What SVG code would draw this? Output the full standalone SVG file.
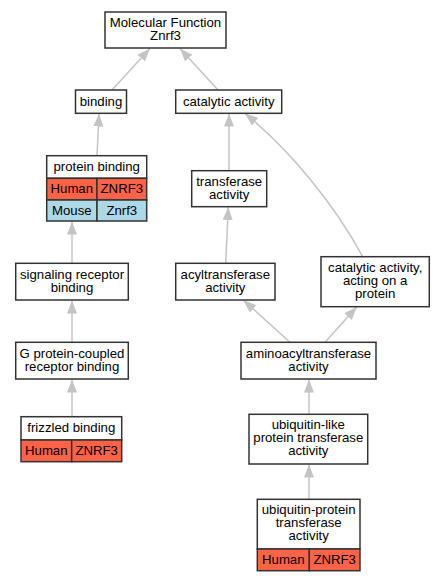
<svg xmlns="http://www.w3.org/2000/svg" width="444" height="581" viewBox="0 0 444 581">
<style>
.box{fill:#fff;stroke:#333;stroke-width:1.5}
.hum{fill:#ff6347;stroke:#333;stroke-width:1.5}
.mou{fill:#add8e6;stroke:#333;stroke-width:1.5}
text{font-family:"Liberation Sans",Arial,sans-serif;font-size:13.2px;fill:#000;text-anchor:middle}
.edge{fill:none;stroke:#c4c4c4;stroke-width:1.5}
</style>
<defs>
<marker id="ah" markerUnits="userSpaceOnUse" markerWidth="14" markerHeight="11" refX="13" refY="5" orient="auto">
<path d="M0,0 L13,5 L0,10 z" fill="#c4c4c4"/>
</marker>
</defs>
<rect width="444" height="581" fill="#fff"/>
<g id="connectors">
<path class="edge" marker-end="url(#ah)" d="M112,90 L150,48.5"/>
<path class="edge" marker-end="url(#ah)" d="M218,90 L180,48.5"/>
<path class="edge" marker-end="url(#ah)" d="M97,155.7 L99,113.5"/>
<path class="edge" marker-end="url(#ah)" d="M229,170.7 L229,113.5"/>
<path class="edge" marker-end="url(#ah)" d="M362.7,256.7 C335,205 290,150 245,113.5"/>
<path class="edge" marker-end="url(#ah)" d="M72,263.3 L72,221.5"/>
<path class="edge" marker-end="url(#ah)" d="M72,342.3 L72,300.5"/>
<path class="edge" marker-end="url(#ah)" d="M72,416.7 L72,379.5"/>
<path class="edge" marker-end="url(#ah)" d="M225.7,263.3 L228.3,207"/>
<path class="edge" marker-end="url(#ah)" d="M290,342.3 L243.5,300.3"/>
<path class="edge" marker-end="url(#ah)" d="M325,342.3 L356.7,307"/>
<path class="edge" marker-end="url(#ah)" d="M309,414.3 L309,379.5"/>
<path class="edge" marker-end="url(#ah)" d="M309,499.3 L309,464.5"/>
</g>
<g id="mf">
<rect class="box" x="105" y="12" width="121" height="36"/>
<text x="165.5" y="27">Molecular Function</text>
<text x="165.5" y="40">Znrf3</text>
</g>
<g id="binding">
<rect class="box" x="75.5" y="90" width="51" height="23.3"/>
<text x="101" y="105.5">binding</text>
</g>
<g id="catalytic">
<rect class="box" x="175.7" y="90" width="106" height="23.3"/>
<text x="228.7" y="105.5">catalytic activity</text>
</g>
<g id="protein_binding">
<rect class="box" x="46.7" y="155.7" width="100" height="22.6"/>
<rect class="hum" x="46.7" y="178.3" width="50.3" height="21.7"/>
<rect class="hum" x="97" y="178.3" width="49.7" height="21.7"/>
<rect class="mou" x="46.7" y="200" width="50.3" height="21"/>
<rect class="mou" x="97" y="200" width="49.7" height="21"/>
<text x="96.7" y="170.5">protein binding</text>
<text x="71.8" y="193">Human</text>
<text x="121.8" y="193">ZNRF3</text>
<text x="71.8" y="214.5">Mouse</text>
<text x="121.8" y="214.5">Znrf3</text>
</g>
<g id="signaling">
<rect class="box" x="15.7" y="263.3" width="112.6" height="36.7"/>
<text x="72" y="278.5">signaling receptor</text>
<text x="72" y="291.5">binding</text>
</g>
<g id="gpcr">
<rect class="box" x="15.7" y="342.3" width="112.6" height="36.7"/>
<text x="72" y="357.5">G protein-coupled</text>
<text x="72" y="370.5">receptor binding</text>
</g>
<g id="frizzled">
<rect class="box" x="21" y="416.7" width="100.7" height="23.3"/>
<rect class="hum" x="21" y="440" width="50.7" height="21.7"/>
<rect class="hum" x="71.7" y="440" width="50" height="21.7"/>
<text x="71.3" y="432">frizzled binding</text>
<text x="46.3" y="454.5">Human</text>
<text x="96.7" y="454.5">ZNRF3</text>
</g>
<g id="transferase">
<rect class="box" x="191.7" y="170.7" width="75" height="36"/>
<text x="229.2" y="185.5">transferase</text>
<text x="229.2" y="198.5">activity</text>
</g>
<g id="acyltransferase">
<rect class="box" x="175.7" y="263.3" width="99.3" height="36.7"/>
<text x="225.3" y="278.5">acyltransferase</text>
<text x="225.3" y="291.5">activity</text>
</g>
<g id="catalytic_protein">
<rect class="box" x="321" y="256.7" width="108.3" height="50"/>
<text x="375.2" y="271.5">catalytic activity,</text>
<text x="375.2" y="284.5">acting on a</text>
<text x="375.2" y="297.5">protein</text>
</g>
<g id="aminoacyl">
<rect class="box" x="241" y="342.3" width="135" height="36.7"/>
<text x="308.5" y="357.5">aminoacyltransferase</text>
<text x="308.5" y="370.5">activity</text>
</g>
<g id="ubl">
<rect class="box" x="249" y="414.3" width="118.7" height="49.7"/>
<text x="308.3" y="429">ubiquitin-like</text>
<text x="308.3" y="442">protein transferase</text>
<text x="308.3" y="455">activity</text>
</g>
<g id="ubp">
<rect class="box" x="257.3" y="499.3" width="102.7" height="49.7"/>
<rect class="hum" x="257.3" y="549" width="52" height="21.7"/>
<rect class="hum" x="309.3" y="549" width="50.7" height="21.7"/>
<text x="308.7" y="514">ubiquitin-protein</text>
<text x="308.7" y="527">transferase</text>
<text x="308.7" y="540">activity</text>
<text x="283.3" y="563.5">Human</text>
<text x="334.7" y="563.5">ZNRF3</text>
</g>
</svg>
